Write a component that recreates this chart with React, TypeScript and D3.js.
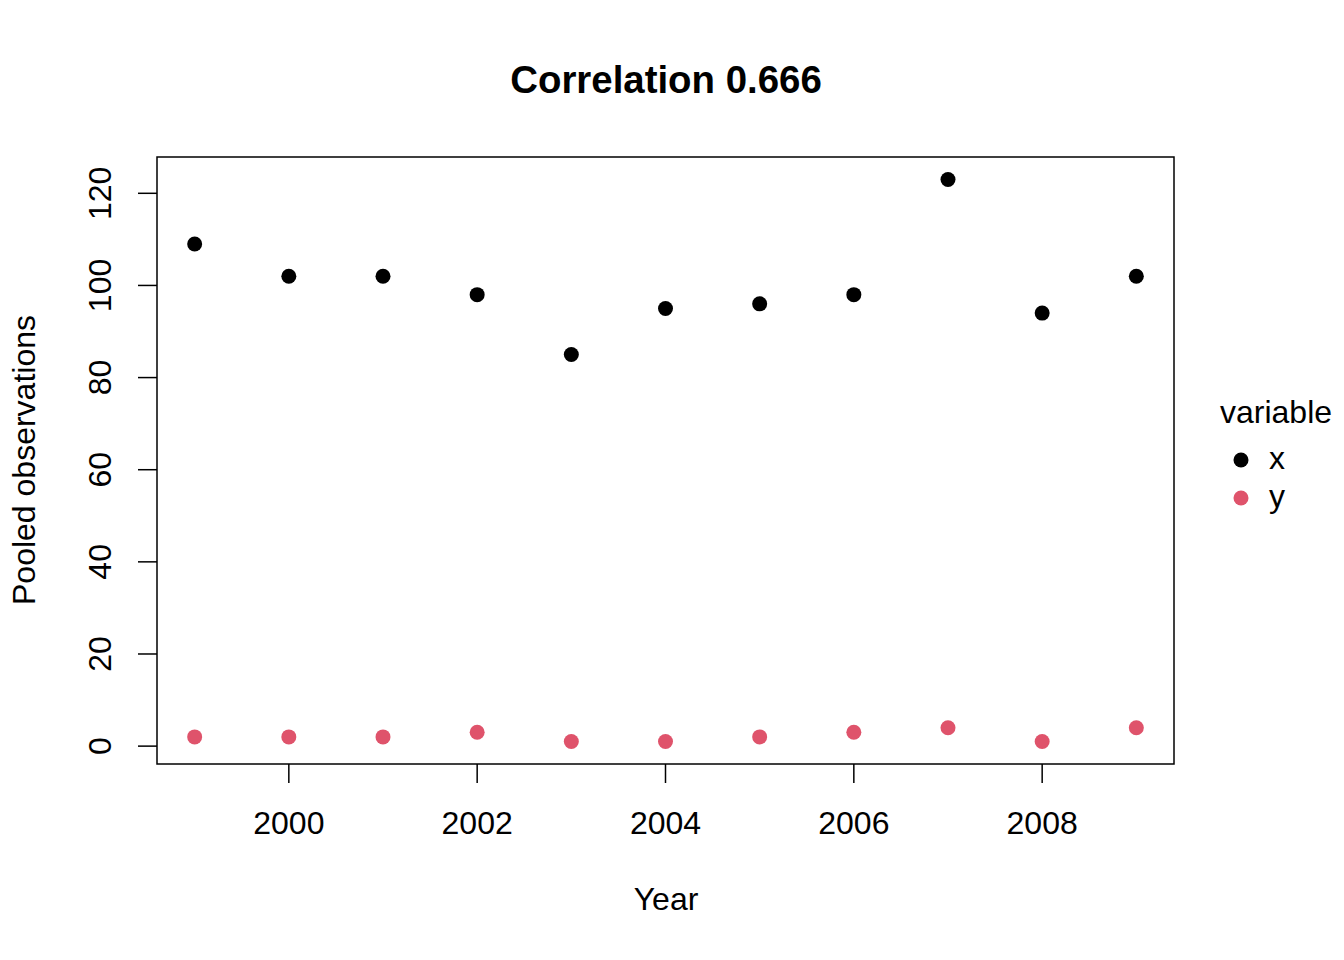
import * as d3 from 'd3';

const years = [1999, 2000, 2001, 2002, 2003, 2004, 2005, 2006, 2007, 2008, 2009];
const xValues = [109, 102, 102, 98, 85, 95, 96, 98, 123, 94, 102];
const yValues = [2, 2, 2, 3, 1, 1, 2, 3, 4, 1, 4];
const xTicks = [2000, 2002, 2004, 2006, 2008];
const yTicks = [0, 20, 40, 60, 80, 100, 120];
const seriesNames = ['x', 'y'];
const seriesColors = ['#000000', '#DF536B'];

const W = 1344;
const H = 960;
const box = { left: 157, right: 1174, top: 157, bottom: 764 };
const font = '"Liberation Sans", Arial, sans-serif';

export default function App() {
  const all = [...xValues, ...yValues];
  const ymin = d3.min(all) as number;
  const ymax = d3.max(all) as number;
  const ypad = (ymax - ymin) * 0.04;
  const xpad = (years[years.length - 1] - years[0]) * 0.04;

  const x = d3.scaleLinear()
    .domain([years[0] - xpad, years[years.length - 1] + xpad])
    .range([box.left, box.right]);
  const y = d3.scaleLinear()
    .domain([ymin - ypad, ymax + ypad])
    .range([box.bottom, box.top]);

  const series = [xValues, yValues];

  return (
    <svg width={W} height={H} style={{ display: 'block', margin: '-8px' }} fontFamily={font}>
      <rect x={0} y={0} width={W} height={H} fill="white" />
      <text x={666} y={93} textAnchor="middle" fontSize={38.4} fontWeight="bold">Correlation 0.666</text>
      <rect x={box.left} y={box.top} width={box.right - box.left} height={box.bottom - box.top}
        fill="none" stroke="black" strokeWidth={1.5} />
      {xTicks.map(t => (
        <g key={t}>
          <line x1={x(t)} x2={x(t)} y1={box.bottom} y2={box.bottom + 19} stroke="black" strokeWidth={1.5} />
          <text x={x(t)} y={834} textAnchor="middle" fontSize={32}>{t}</text>
        </g>
      ))}
      {yTicks.map(t => (
        <g key={t}>
          <line x1={box.left} x2={box.left - 19} y1={y(t)} y2={y(t)} stroke="black" strokeWidth={1.5} />
          <text transform={`translate(111,${y(t)}) rotate(-90)`} textAnchor="middle" fontSize={32}>{t}</text>
        </g>
      ))}
      <text x={666} y={910} textAnchor="middle" fontSize={32}>Year</text>
      <text transform={`translate(35,460) rotate(-90)`} textAnchor="middle" fontSize={32}>Pooled observations</text>
      {series.map((vals, si) => (
        <g key={si}>
          {vals.map((v, i) => (
            <circle key={i} cx={x(years[i])} cy={y(v)} r={7.5} fill={seriesColors[si]} />
          ))}
        </g>
      ))}
      <text x={1220} y={423} fontSize={32}>variable</text>
      {seriesNames.map((n, i) => (
        <g key={n}>
          <circle cx={1241} cy={460 + i * 38} r={7.5} fill={seriesColors[i]} />
          <text x={1269} y={469 + i * 38} fontSize={32}>{n}</text>
        </g>
      ))}
    </svg>
  );
}
